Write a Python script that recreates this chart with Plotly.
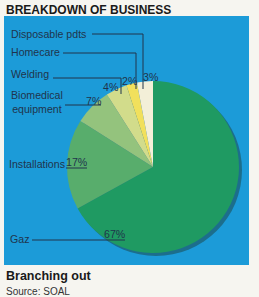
import plotly.graph_objects as go

W, H = 259, 297

categories = ["Gaz", "Installations", "Biomedical equipment", "Welding", "Homecare", "Disposable pdts"]
values = [67, 17, 7, 4, 2, 3]
colors = ["#1f9a62", "#58ad6c", "#94c37d", "#d2dc8b", "#f1e05c", "#f3efd8"]

title_text = "BREAKDOWN OF BUSINESS"
subtitle_text = "Branching out"
source_text = "Source: SOAL"

BLUE = "#1c9bd8"
INK = "#20344c"


def px(x):
    return x / W


def py(y):
    return 1 - y / H


cx, cy, r = 153, 167, 86

fig = go.Figure()
# drop shadow
fig.add_trace(go.Pie(
    values=[1], marker=dict(colors=["#1c6e8c"], line=dict(width=0)),
    domain=dict(x=[px(cx - r + 3), px(cx + r + 3)], y=[py(cy + r + 3), py(cy - r + 3)]),
    textinfo="none", hoverinfo="skip", showlegend=False, sort=False,
))
fig.add_trace(go.Pie(
    labels=categories, values=values,
    marker=dict(colors=colors, line=dict(width=0)),
    domain=dict(x=[px(cx - r), px(cx + r)], y=[py(cy + r), py(cy - r)]),
    textinfo="none", hoverinfo="label+percent", showlegend=False,
    sort=False, direction="clockwise", rotation=0,
))

shapes = [
    dict(type="rect", xref="paper", yref="paper", x0=px(4), x1=px(249), y0=py(265), y1=py(16),
         fillcolor=BLUE, line=dict(width=0), layer="below"),
]


def path(points):
    d = "M " + " L ".join(f"{px(x)},{py(y)}" for x, y in points)
    return dict(type="path", xref="paper", yref="paper", path=d, line=dict(color=INK, width=1))


shapes += [
    path([(92, 34), (143, 34), (143, 89)]),
    path([(63, 53), (136, 53), (136, 89)]),
    path([(53, 78), (121, 78), (121, 94)]),
    path([(65, 105), (101, 105)]),
    path([(66, 168), (87, 168)]),
    path([(32, 240), (125, 240)]),
]

ann = []


def text(x, y, t, size=10.6, anchor="left", bold=False, color=INK, family="Liberation Sans, Arial, sans-serif"):
    ann.append(dict(x=px(x), y=py(y), xref="paper", yref="paper", text=f"<b>{t}</b>" if bold else t,
                    showarrow=False, xanchor=anchor, yanchor="middle",
                    font=dict(size=size, color=color, family=family)))


text(4, 10, title_text, size=12, bold=True, color="#1a1a1a", family="Liberation Sans Narrow, Arial Narrow, sans-serif")
text(4, 276, subtitle_text, size=12.5, bold=True, color="#1a1a1a", family="Liberation Sans Narrow, Arial Narrow, sans-serif")
text(4, 291, source_text, size=10, color="#333333")

label_pos = {
    "Disposable pdts": (9, 34),
    "Homecare": (9, 52),
    "Welding": (9, 74),
    "Installations": (7, 164),
    "Gaz": (8, 239),
}
for name, (x, y) in label_pos.items():
    text(x, y, name)
text(9, 102, "Biomedical<br>equipment")

pct_pos = {
    "Gaz": (115, 234),
    "Installations": (77, 162),
    "Biomedical equipment": (94, 101),
    "Welding": (111, 87),
    "Homecare": (130, 81),
    "Disposable pdts": (151, 77),
}
for name, v in zip(categories, values):
    x, y = pct_pos[name]
    text(x, y, f"{v}%", anchor="center")

fig.update_layout(
    width=W, height=H, margin=dict(l=0, r=0, t=0, b=0),
    paper_bgcolor="#f6f5f0", plot_bgcolor="#f6f5f0",
    shapes=shapes, annotations=ann,
)
fig.write_html("out.html")
